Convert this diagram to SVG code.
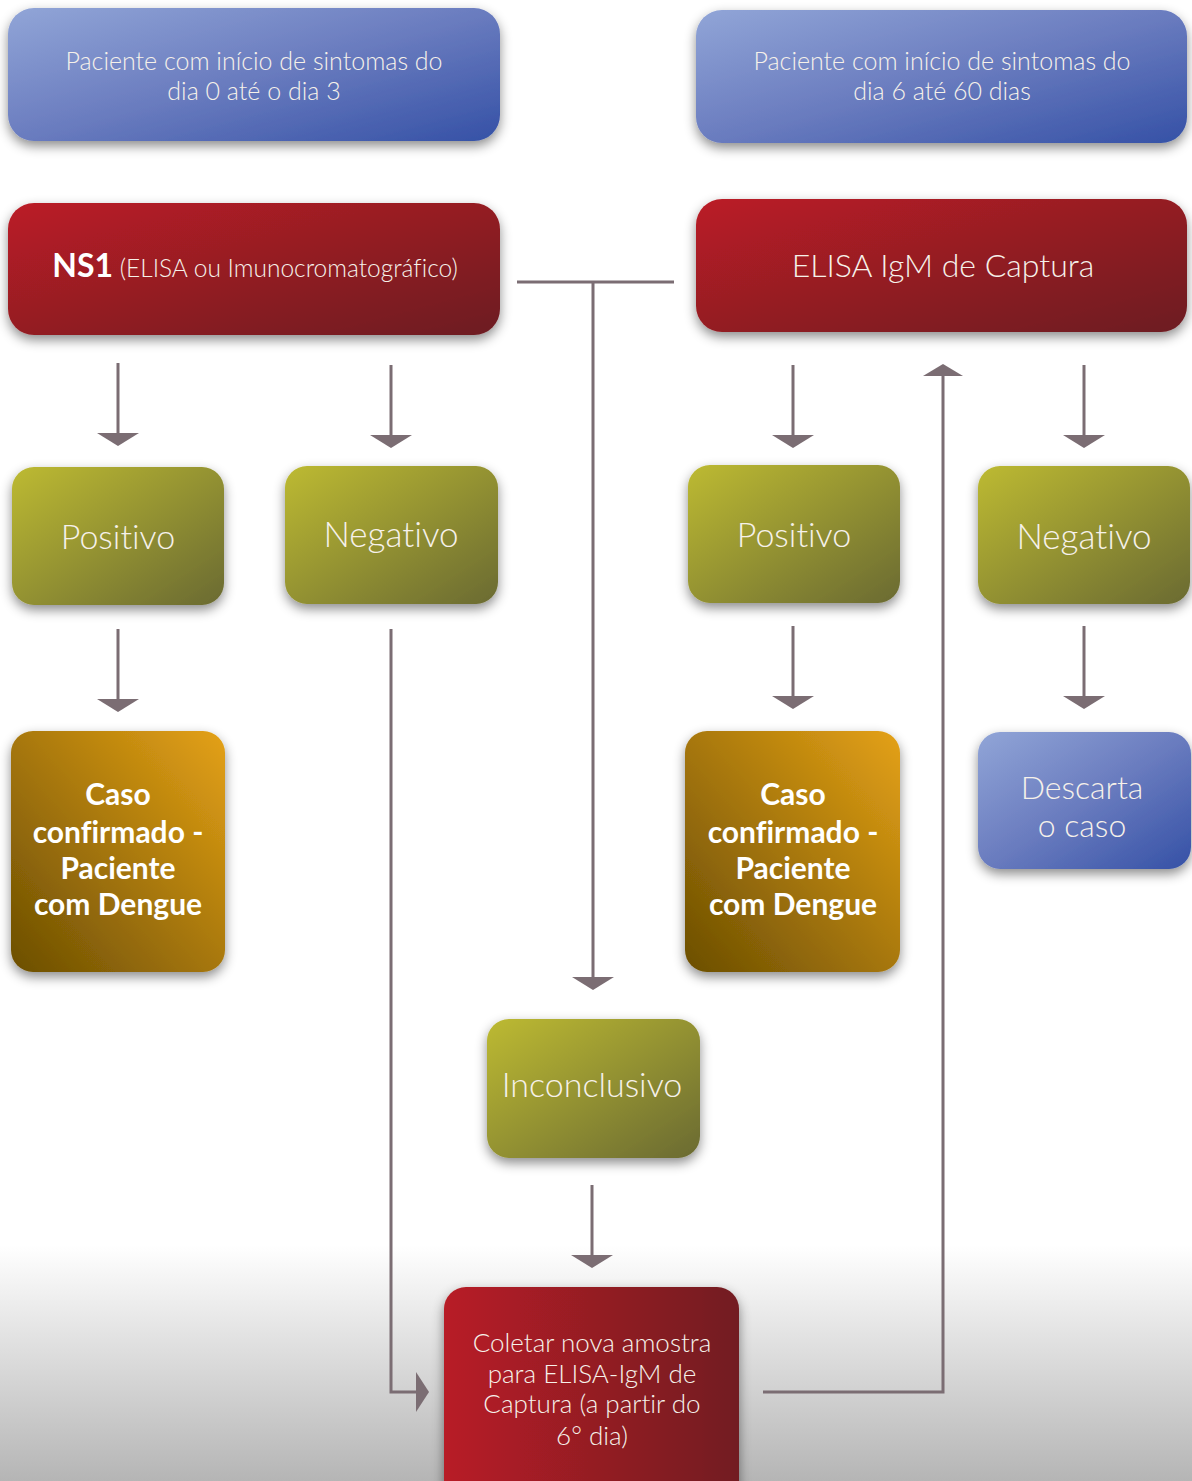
<svg xmlns="http://www.w3.org/2000/svg" width="1192" height="1481" viewBox="0 0 1192 1481">
<defs>
<linearGradient id="bg" gradientUnits="userSpaceOnUse" x1="0" y1="1245" x2="0" y2="1481"><stop offset="0" stop-color="#ffffff"/><stop offset="1" stop-color="#b5b5b5"/></linearGradient>
<linearGradient id="blue" x1="0" y1="0" x2="1" y2="1"><stop offset="0" stop-color="#91a5d7"/><stop offset="0.5" stop-color="#6a7cbf"/><stop offset="1" stop-color="#3551a6"/></linearGradient>
<linearGradient id="red" x1="0" y1="0" x2="1" y2="1"><stop offset="0" stop-color="#bb1e26"/><stop offset="1" stop-color="#6c1b21"/></linearGradient>
<linearGradient id="redh" x1="0" y1="0" x2="1" y2="0"><stop offset="0" stop-color="#b81f26"/><stop offset="1" stop-color="#721c22"/></linearGradient>
<linearGradient id="olive" x1="0" y1="0" x2="1" y2="1"><stop offset="0" stop-color="#bdba31"/><stop offset="1" stop-color="#6a6a31"/></linearGradient>
<linearGradient id="gold" x1="1" y1="0" x2="0" y2="1"><stop offset="0" stop-color="#e4a116"/><stop offset="1" stop-color="#6b4e02"/></linearGradient>
<filter id="sh" x="-20%" y="-20%" width="140%" height="150%"><feDropShadow dx="0" dy="5" stdDeviation="6" flood-color="#000" flood-opacity="0.45"/></filter>
</defs>
<style>
.t{font-family:"Lato","Open Sans","Liberation Sans",sans-serif;font-weight:300;fill:#f6f1ea;text-anchor:middle;font-variant-ligatures:none}
.b{font-family:"Lato","Open Sans","Liberation Sans",sans-serif;font-weight:700;fill:#ffffff;text-anchor:middle;font-variant-ligatures:none}
.ln{stroke:#7b6d73;stroke-width:3;fill:none}
.ah{fill:#7b6d73}
</style>
<rect x="0" y="0" width="1192" height="1481" fill="url(#bg)"/>

<g id="connectors">
<line class="ln" x1="118" y1="363" x2="118" y2="434"/><polygon class="ah" points="97,433 139,433 118,446"/>
<line class="ln" x1="391" y1="365" x2="391" y2="436"/><polygon class="ah" points="370,435 412,435 391,448"/>
<line class="ln" x1="793" y1="365" x2="793" y2="436"/><polygon class="ah" points="772,435 814,435 793,448"/>
<line class="ln" x1="1084" y1="365" x2="1084" y2="436"/><polygon class="ah" points="1063,435 1105,435 1084,448"/>
<line class="ln" x1="118" y1="629" x2="118" y2="700"/><polygon class="ah" points="97,699 139,699 118,712"/>
<line class="ln" x1="793" y1="626" x2="793" y2="697"/><polygon class="ah" points="772,696 814,696 793,709"/>
<line class="ln" x1="1084" y1="626" x2="1084" y2="697"/><polygon class="ah" points="1063,696 1105,696 1084,709"/>
<line class="ln" x1="517" y1="282" x2="674" y2="282"/>
<line class="ln" x1="593" y1="282" x2="593" y2="978"/><polygon class="ah" points="572,977 614,977 593,990"/>
<line class="ln" x1="592" y1="1185" x2="592" y2="1256"/><polygon class="ah" points="571,1255 613,1255 592,1268"/>
<polyline class="ln" points="391,629 391,1392 417,1392"/><polygon class="ah" points="416,1372 416,1412 429,1392"/>
<polyline class="ln" points="763,1392 943,1392 943,375"/><polygon class="ah" points="923,376 963,376 943,364"/>
</g>

<g id="n_top_left"><rect x="8" y="8" width="492" height="133" rx="26" fill="url(#blue)" filter="url(#sh)"/>
<text class="t" x="254" y="70" font-size="25">Paciente com início de sintomas do</text>
<text class="t" x="254" y="100" font-size="25">dia 0 até o dia 3</text></g>

<g id="n_top_right"><rect x="696" y="10" width="491" height="133" rx="26" fill="url(#blue)" filter="url(#sh)"/>
<text class="t" x="942" y="70" font-size="25">Paciente com início de sintomas do</text>
<text class="t" x="942" y="100" font-size="25">dia 6 até 60 dias</text></g>

<g id="n_ns1"><rect x="8" y="203" width="492" height="132" rx="26" fill="url(#red)" filter="url(#sh)"/>
<text x="255" y="277" class="t" font-size="24.5"><tspan class="b" font-weight="700" font-size="32" fill="#fff">NS1</tspan> (ELISA ou Imunocromatográfico)</text></g>

<g id="n_elisa"><rect x="696" y="199" width="491" height="133" rx="26" fill="url(#red)" filter="url(#sh)"/>
<text class="t" x="943" y="277" font-size="32">ELISA IgM de Captura</text></g>

<g id="n_pos_l"><rect x="12" y="467" width="212" height="138" rx="22" fill="url(#olive)" filter="url(#sh)"/>
<text class="t" x="118" y="549" font-size="34">Positivo</text></g>
<g id="n_neg_l"><rect x="285" y="466" width="213" height="138" rx="22" fill="url(#olive)" filter="url(#sh)"/>
<text class="t" x="391" y="547" font-size="35">Negativo</text></g>
<g id="n_pos_r"><rect x="688" y="465" width="212" height="138" rx="22" fill="url(#olive)" filter="url(#sh)"/>
<text class="t" x="794" y="547" font-size="34">Positivo</text></g>
<g id="n_neg_r"><rect x="978" y="466" width="212" height="138" rx="22" fill="url(#olive)" filter="url(#sh)"/>
<text class="t" x="1084" y="549" font-size="35">Negativo</text></g>

<g id="n_caso_l"><rect x="11" y="731" width="214" height="241" rx="22" fill="url(#gold)" filter="url(#sh)"/>
<text class="b" x="118" y="805" font-size="30">Caso</text>
<text class="b" x="118" y="843" font-size="30">confirmado -</text>
<text class="b" x="118" y="879" font-size="30">Paciente</text>
<text class="b" x="118" y="915" font-size="30">com Dengue</text></g>

<g id="n_caso_r"><rect x="685" y="731" width="215" height="241" rx="22" fill="url(#gold)" filter="url(#sh)"/>
<text class="b" x="793" y="805" font-size="30">Caso</text>
<text class="b" x="793" y="843" font-size="30">confirmado -</text>
<text class="b" x="793" y="879" font-size="30">Paciente</text>
<text class="b" x="793" y="915" font-size="30">com Dengue</text></g>

<g id="n_descarta"><rect x="978" y="732" width="213" height="137" rx="22" fill="url(#blue)" filter="url(#sh)"/>
<text class="t" x="1082" y="799" font-size="32">Descarta</text>
<text class="t" x="1082" y="837" font-size="32">o caso</text></g>

<g id="n_inconc"><rect x="487" y="1019" width="213" height="139" rx="22" fill="url(#olive)" filter="url(#sh)"/>
<text class="t" x="592" y="1097" font-size="34">Inconclusivo</text></g>

<g id="n_coletar"><rect x="444" y="1287" width="295" height="220" rx="22" fill="url(#redh)" filter="url(#sh)"/>
<text class="t" x="592" y="1352" font-size="26">Coletar nova amostra</text>
<text class="t" x="592" y="1383" font-size="26">para ELISA-IgM de</text>
<text class="t" x="592" y="1413" font-size="26">Captura (a partir do</text>
<text class="t" x="592" y="1445" font-size="26">6° dia)</text></g>
</svg>
